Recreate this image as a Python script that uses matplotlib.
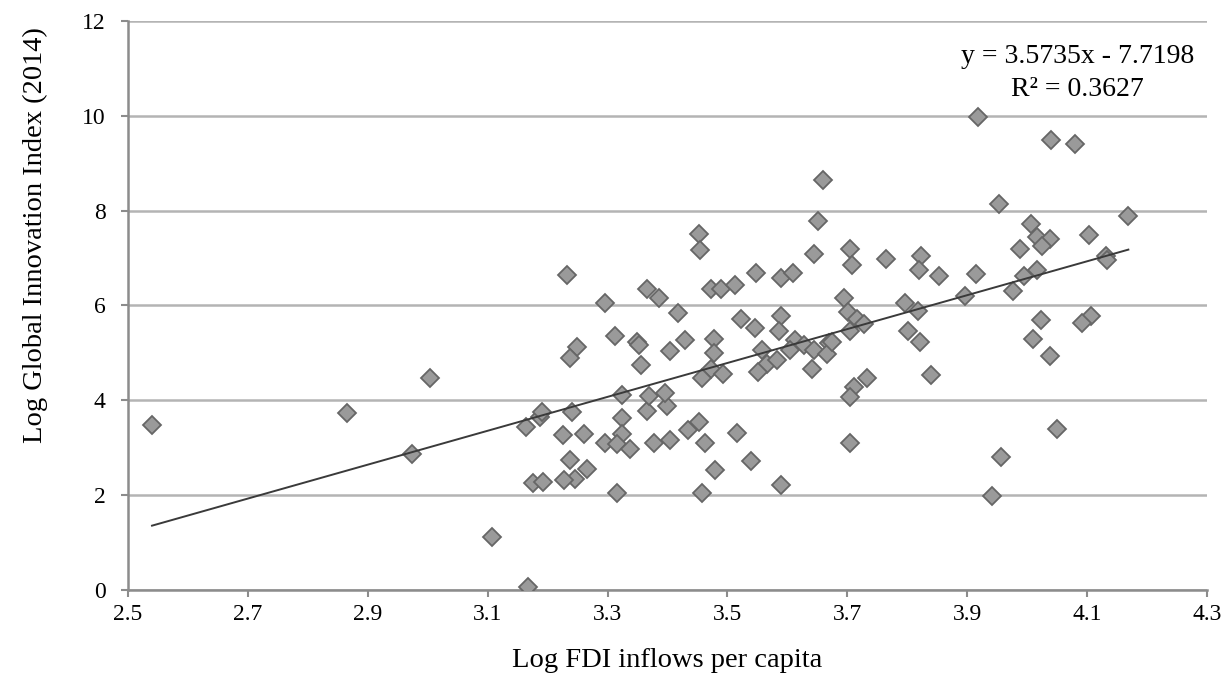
import matplotlib
matplotlib.use("Agg")
import matplotlib.pyplot as plt
import numpy as np

# Log FDI inflows per capita (x) vs Log Global Innovation Index 2014 (y)
fdi = [2.540, 2.866, 2.974, 3.004, 3.108, 3.168,
       3.164, 3.187, 3.190, 3.241, 3.324, 3.366, 3.399, 3.324, 3.369, 3.396,
       3.226, 3.260, 3.295, 3.324, 3.316, 3.338, 3.377, 3.404, 3.435, 3.452,
       3.462, 3.516, 3.540, 3.480, 3.590, 3.238, 3.265, 3.245, 3.227, 3.176,
       3.193, 3.316, 3.458,
       3.660, 3.652, 3.644, 3.452, 3.455, 3.233, 3.548, 3.590, 3.610, 3.366,
       3.386, 3.473, 3.489, 3.513, 3.295, 3.417, 3.522, 3.546, 3.590, 3.586,
       3.313, 3.349, 3.352, 3.249, 3.237, 3.430, 3.404, 3.477, 3.477, 3.356,
       3.612, 3.627, 3.644, 3.669, 3.666, 3.558, 3.566, 3.583, 3.605, 3.641,
       3.551, 3.472, 3.458, 3.493,
       3.918, 4.040, 4.080, 3.954, 4.169, 4.006, 4.017, 4.038, 4.025, 4.103,
       3.989, 4.131, 4.134, 3.704, 3.708, 3.765, 3.823, 3.819, 3.853, 3.914,
       3.977, 3.995, 4.016, 3.897, 3.694, 3.797,
       3.702, 3.716, 3.728, 3.705, 3.675, 3.818, 3.801, 3.821, 3.839, 4.024,
       4.010, 4.038, 4.106, 4.092, 3.733, 3.712, 3.704, 3.705, 4.050, 3.957,
       3.941]
gii = [3.49, 3.73, 2.86, 4.48, 1.12, 0.06,
       3.44, 3.65, 3.75, 3.75, 3.63, 3.77, 3.87, 4.11, 4.09, 4.15,
       3.26, 3.30, 3.11, 3.28, 3.07, 2.97, 3.11, 3.16, 3.38, 3.54,
       3.09, 3.31, 2.72, 2.53, 2.21, 2.74, 2.55, 2.34, 2.32, 2.25,
       2.27, 2.04, 2.04,
       8.65, 7.79, 7.09, 7.51, 7.18, 6.65, 6.69, 6.58, 6.68, 6.35,
       6.15, 6.35, 6.35, 6.44, 6.06, 5.84, 5.71, 5.52, 5.78, 5.47,
       5.35, 5.24, 5.17, 5.12, 4.90, 5.28, 5.05, 5.30, 5.00, 4.74,
       5.28, 5.16, 5.07, 5.21, 4.98, 5.07, 4.77, 4.86, 5.07, 4.67,
       4.60, 4.67, 4.47, 4.56,
       9.98, 9.49, 9.40, 8.14, 7.89, 7.71, 7.44, 7.40, 7.26, 7.49,
       7.19, 7.05, 6.95, 7.19, 6.86, 6.98, 7.04, 6.74, 6.63, 6.67,
       6.30, 6.63, 6.74, 6.20, 6.15, 6.05,
       5.86, 5.72, 5.61, 5.47, 5.23, 5.88, 5.47, 5.23, 4.53, 5.70,
       5.30, 4.93, 5.77, 5.63, 4.48, 4.29, 4.08, 3.10, 3.40, 2.81,
       1.98]

slope, intercept = 3.5735, -7.7198
r2 = 0.3627

x_ticks = [2.5, 2.7, 2.9, 3.1, 3.3, 3.5, 3.7, 3.9, 4.1, 4.3]
y_ticks = [0, 2, 4, 6, 8, 10, 12]

plt.rcParams['font.family'] = ['Liberation Serif', 'DejaVu Serif']

fig = plt.figure(figsize=(12.24, 6.76), dpi=100)
ax = fig.add_axes([0.1046, 0.1272, 0.8814, 0.8418])

ax.grid(axis="y", color="#b4b4b4", linewidth=1.8, zorder=0)
ax.set_axisbelow(True)

ax.plot(fdi, gii, linestyle="none", marker="D", markersize=9.5,
        markerfacecolor="#9a9a9a", markeredgecolor="#666666",
        markeredgewidth=1.3, zorder=3)

x = np.array(fdi)
line_x = np.array([x.min(), x.max()])
ax.plot(line_x, slope * line_x + intercept, color="#3a3a3a", linewidth=1.4, zorder=4)

# trendline label, two lines like the spreadsheet original
ax.text(4.084, 11.12, "y = %.4fx - %.4f" % (slope, -intercept), ha="center",
        va="baseline", fontsize=20)
ax.text(4.084, 10.42, "R² = %.4f" % r2, ha="center", va="baseline", fontsize=20)

ax.set_xlim(2.5, 4.3)
ax.set_ylim(0, 12)
ax.set_xticks(x_ticks)
ax.set_xticklabels(["%.1f" % t for t in x_ticks])
ax.set_yticks(y_ticks)
ax.tick_params(axis="both", labelsize=17, color="#8c8c8c", width=1.5, length=5)
ax.tick_params(axis="x", direction="out", pad=5)
ax.tick_params(axis="y", pad=11)

for side in ["top", "right"]:
    ax.spines[side].set_visible(False)
for side in ["left", "bottom"]:
    ax.spines[side].set_color("#8c8c8c")
    ax.spines[side].set_linewidth(1.8)

ax.set_xlabel("Log FDI inflows per capita", fontsize=20.5)
ax.set_ylabel("Log Global Innovation Index (2014)", fontsize=20.5)
ax.xaxis.set_label_coords(0.5, -0.102)
ax.yaxis.set_label_coords(-0.074, 0.624)

fig.savefig("out.png", dpi=100)
